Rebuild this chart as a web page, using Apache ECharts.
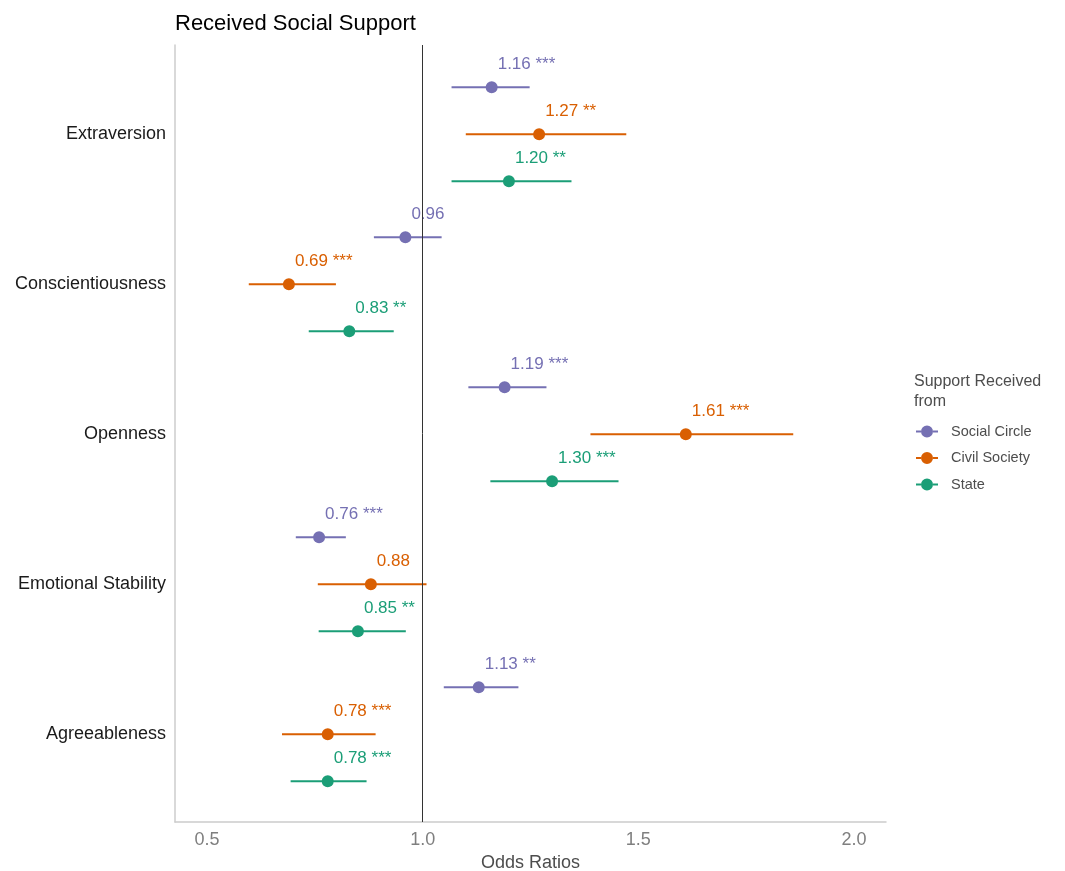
<!DOCTYPE html>
<html>
<head>
<meta charset="utf-8">
<title>Received Social Support</title>
<script src="https://cdn.jsdelivr.net/npm/echarts@6/dist/echarts.min.js"></script>
<style>
  html, body { margin: 0; padding: 0; background: #fff; }
  #main { width: 1065px; height: 871px; }
</style>
</head>
<body>
<div id="main"></div>
<script>
// categories, top to bottom
var categories = ['Extraversion', 'Conscientiousness', 'Openness', 'Emotional Stability', 'Agreeableness'];
var groups = ['Social Circle', 'Civil Society', 'State'];
var groupColors = ['#7570B3', '#D95F02', '#1B9E77'];
var groupOffset = [-0.313, 0, 0.313];

// odds ratios and confidence intervals per group
var socialEst   = [1.16, 0.96, 1.19, 0.76, 1.13];
var socialLow   = [1.067, 0.887, 1.106, 0.706, 1.049];
var socialHigh  = [1.248, 1.044, 1.287, 0.822, 1.222];
var socialStars = ['***', '', '***', '***', '**'];

var civilEst   = [1.27, 0.69, 1.61, 0.88, 0.78];
var civilLow   = [1.10, 0.597, 1.389, 0.757, 0.674];
var civilHigh  = [1.472, 0.799, 1.859, 1.009, 0.891];
var civilStars = ['**', '***', '***', '', '***'];

var stateEst   = [1.20, 0.83, 1.30, 0.85, 0.78];
var stateLow   = [1.067, 0.736, 1.157, 0.759, 0.694];
var stateHigh  = [1.345, 0.933, 1.454, 0.961, 0.87];
var stateStars = ['**', '**', '***', '**', '***'];

var xTicks = [0.5, 1.0, 1.5, 2.0];

var allEst = [socialEst, civilEst, stateEst];
var allLow = [socialLow, civilLow, stateLow];
var allHigh = [socialHigh, civilHigh, stateHigh];
var allStars = [socialStars, civilStars, stateStars];

var legendIcon = 'path://M0,5 H5 V7 H0 Z M5,6 A6,6 0 1,1 17,6 A6,6 0 1,1 5,6 Z M17,5 H22 V7 H17 Z';
var font = 'Liberation Sans, Arial, sans-serif';

var series = [];
groups.forEach(function (g, gi) {
  var ciData = [], ptData = [];
  for (var k = 0; k < categories.length; k++) {
    var y = k + groupOffset[gi];
    ciData.push([allLow[gi][k], allHigh[gi][k], y]);
    var lbl = allEst[gi][k].toFixed(2) + (allStars[gi][k] ? ' ' + allStars[gi][k] : '');
    ptData.push({ value: [allEst[gi][k], y], label: { formatter: lbl } });
  }
  series.push({
    name: g,
    type: 'custom',
    z: 2,
    itemStyle: { color: groupColors[gi] },
    encode: { x: [0, 1], y: 2 },
    data: ciData,
    renderItem: function (params, api) {
      var a = api.coord([api.value(0), api.value(2)]);
      var b = api.coord([api.value(1), api.value(2)]);
      return {
        type: 'line',
        shape: { x1: a[0], y1: a[1], x2: b[0], y2: b[1] },
        style: { stroke: groupColors[gi], lineWidth: 2 }
      };
    },
    silent: true
  });
  series.push({
    name: g,
    type: 'scatter',
    z: 3,
    symbolSize: 12,
    itemStyle: { color: groupColors[gi], opacity: 1 },
    label: {
      show: true,
      position: 'top',
      align: 'left',
      offset: [6, -3],
      color: groupColors[gi],
      fontSize: 17,
      fontFamily: font
    },
    data: ptData
  });
});

// reference line at odds ratio 1
series[0].markLine = {
  silent: true,
  symbol: 'none',
  label: { show: false },
  lineStyle: { color: '#333', width: 1, type: 'solid' },
  data: [{ xAxis: 1 }]
};

var chart = echarts.init(document.getElementById('main'));
chart.setOption({
  animation: false,
  backgroundColor: '#fff',
  title: [
    {
      text: 'Received Social Support',
      left: 175, top: 13, padding: 0,
      textStyle: { fontSize: 22, fontWeight: 'normal', color: '#000', fontFamily: font }
    },
    {
      text: 'Support Received\nfrom',
      left: 914, top: 372, padding: 0,
      textStyle: { fontSize: 16, fontWeight: 'normal', color: '#4d4d4d', lineHeight: 20, fontFamily: font }
    }
  ],
  legend: {
    orient: 'vertical',
    left: 916, top: 424, padding: 0,
    itemWidth: 22, itemHeight: 12, itemGap: 11.5,
    data: groups.map(function (g) { return { name: g, icon: legendIcon }; }),
    textStyle: { fontSize: 14.5, color: '#4d4d4d', fontFamily: font, padding: [0, 0, 0, 8] }
  },
  grid: { left: 175, top: 45, width: 711, height: 777, containLabel: false, outerBoundsMode: 'none' },
  xAxis: {
    type: 'value',
    min: 0.426, max: 2.074,
    name: 'Odds Ratios',
    nameLocation: 'middle',
    nameGap: 32,
    nameTextStyle: { fontSize: 18, color: '#4d4d4d', fontFamily: font },
    axisLine: { show: true, onZero: false, lineStyle: { color: '#cccccc', width: 1.5 } },
    axisTick: { show: false },
    splitLine: { show: false },
    axisLabel: {
      customValues: xTicks,
      formatter: function (v) { return v.toFixed(1); },
      fontSize: 18, color: '#7f7f7f', margin: 9, fontFamily: font
    }
  },
  yAxis: {
    type: 'value',
    min: -0.595, max: 4.585,
    inverse: true,
    axisLine: { show: true, onZero: false, lineStyle: { color: '#cccccc', width: 1.5 } },
    axisTick: { show: false },
    splitLine: { show: false },
    axisLabel: {
      customValues: [0, 1, 2, 3, 4],
      formatter: function (v) { return categories[Math.round(v)]; },
      fontSize: 18, color: '#1a1a1a', margin: 9, fontFamily: font
    }
  },
  series: series
});
</script>
</body>
</html>
